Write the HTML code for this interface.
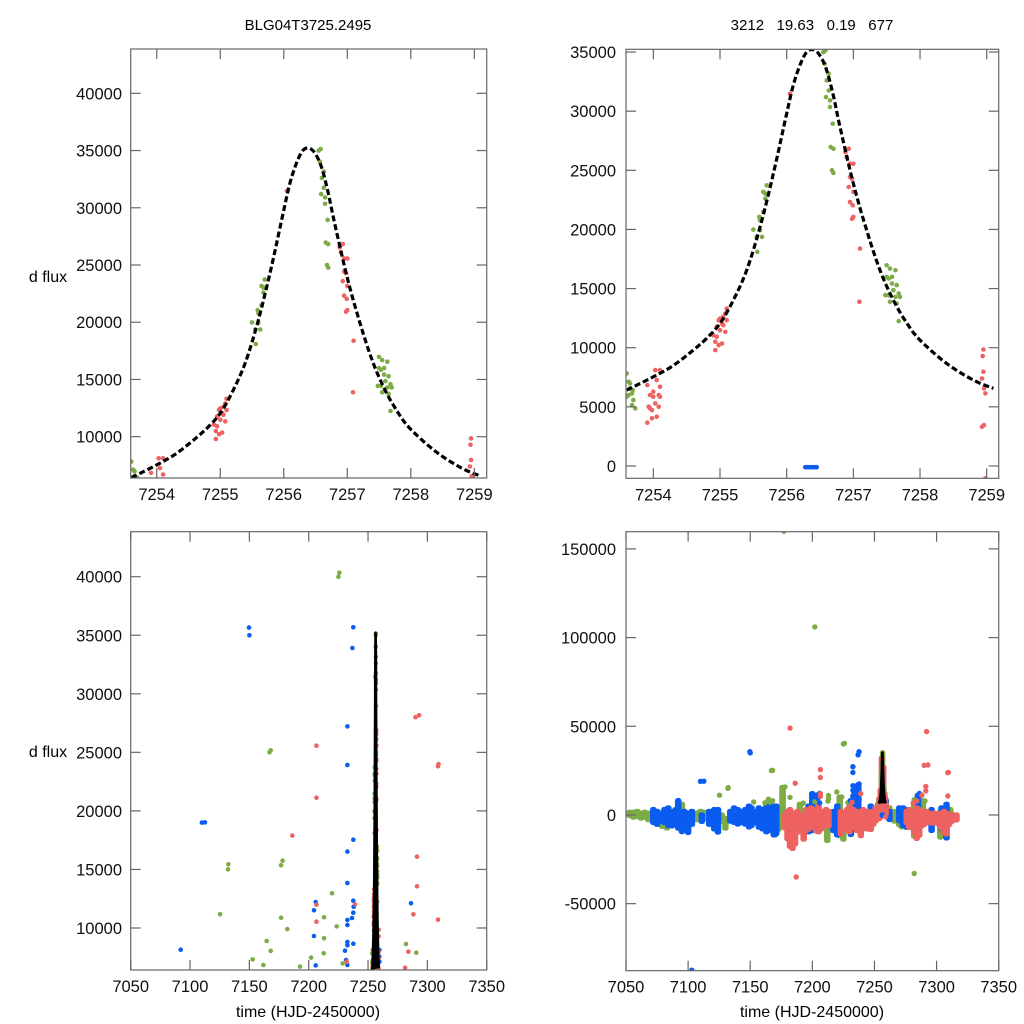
<!DOCTYPE html>
<html><head><meta charset="utf-8"><style>
html,body{margin:0;padding:0;background:#fff;overflow:hidden;width:1024px;height:1024px;}
svg{display:block;font-family:"Liberation Sans",sans-serif;}
</style></head><body>
<svg id="chart" width="1024" height="1024" viewBox="0 0 1024 1024" xmlns="http://www.w3.org/2000/svg">
<rect width="1024" height="1024" fill="#fff"/>
<text x="308" y="30" text-anchor="middle" font-size="15">BLG04T3725.2495</text>
<text x="812" y="30" text-anchor="middle" font-size="15" xml:space="preserve">3212   19.63   0.19   677</text>
<text x="48" y="282" text-anchor="middle" font-size="16">d flux</text>
<text x="48" y="757" text-anchor="middle" font-size="16">d flux</text>
<text x="308" y="1017" text-anchor="middle" font-size="16">time (HJD-2450000)</text>
<text x="812" y="1017" text-anchor="middle" font-size="16">time (HJD-2450000)</text>
</svg>
<script>
// ---- model curve ----
const modelT=[7253.6,7254,7254.3,7254.6,7254.8,7255,7255.2,7255.4,7255.6,7255.8,7256,7256.1,7256.2,7256.3,7256.4,7256.5,7256.6,7256.7,7256.8,7257,7257.2,7257.4,7257.6,7257.8,7258,7258.4,7258.8,7259.1];
const modelF=[6420,7540,8500,9800,10800,12050,14020,16550,20200,24700,29800,32200,33900,35000,35200,34700,33450,31300,28660,23870,19930,16550,14020,12100,10640,8670,7260,6560];
// ---- individual points: red telescope ----
const redT=[7253.91,7254.03,7254.1,7254.05,7253.95,7254,7254.08,7253.93,7253.98,7254.03,7254.1,7254.05,7253.98,7253.91,7254.1,7254.08,7253.95,7254,
7254.93,7254.93,7254.95,7255,7255.03,7255.05,7255.08,7255.1,7254.98,7254.95,7255.08,7255.03,7254.98,7254.9,7255.1,7255,7255.05,
7256.05,7256.88,7256.93,7256.9,7256.95,7257,7256.98,7256.95,7256.93,7257,7256.95,7256.99,7257,7256.98,7257.1,7257.09,
7258.95,7258.94,7258.95,7258.93,7258.96,7258.98,7258.93,7258.96,7258.98,
7206.5,7206.5,7186.2,7293,7309,7291.3,7291.3,7288.2,7309,7206.5,7206.5,7239,7232,7284,7281.2,7182,7292,7187,7290,7309.5];
const redF=[6840,8110,8110,7260,6000,5860,6000,5010,4730,5290,5860,4170,4030,3660,6700,5010,4870,6280,
9800,10500,10920,11480,12050,12610,12890,13310,12330,11770,11340,10360,10220,11060,12330,12470,11910,
31470,26550,26830,26120,25560,25560,24290,24430,23590,23170,22320,22040,21060,20910,18380,13880,
9850,9290,7970,7400,6560,6140,3320,3460,-1040,
25570,21130,17890,28160,23810,16090,13560,11170,10710,11990,10540,12020,7120,7980,6610,49000,47000,-35000,28000,24000];
// ---- green telescope ----
const greenT=[7253.6,7253.63,7253.65,7253.63,7253.68,7253.65,7253.7,7253.68,7253.73,7253.6,7253.69,
7255.5,7255.55,7255.6,7255.63,7255.56,7255.6,7255.65,7255.68,7255.65,7255.7,7255.59,7255.68,
7256.55,7256.58,7256.57,7256.63,7256.6,7256.63,7256.59,7256.65,7256.65,7256.69,7256.66,7256.7,7256.68,7256.7,
7257.5,7257.55,7257.63,7257.53,7257.58,7257.65,7257.6,7257.53,7257.63,7257.7,7257.55,7257.65,7257.48,7257.68,7257.58,7257.68,7257.5,
7225.8,7168,7132.3,7125.3,7178,7176.7,7176.7,7182,7219.7,7223.6,7213,7213,7212.6,7164.6,7168,7152.8,7161.8,7192.7,7202,7228.6,7282,7290.7,
7177,7202,7225,7282,7167,7132];
const greenF=[7830,7120,6560,6000,6140,6980,5570,5150,4870,5860,6420,
19990,19370,19930,19370,18100,20770,21480,22600,23170,23730,21060,23030,
34990,35130,34010,33160,32600,31750,31190,30910,30350,28940,26970,26830,25000,24770,
16970,16690,16550,15850,15430,15290,14860,14440,14300,14300,13880,13740,14440,14580,15990,12250,15990,
40340,25170,15440,11170,15750,15350,10880,9910,12960,10140,10910,9120,7840,8890,8040,7320,6840,6700,7470,6980,8630,7890,
160000,106000,40000,-33000,25000,15000];
// ---- blue telescope ----
const blueT=[7256.28,7256.31,7256.34,7256.37,7256.4,7256.43,7256.45,
7149.7,7237.6,7236.8,7232.6,7232.6,7112.6,7237.6,7232.6,7232.6,7237.6,7237.9,7237.6,7236.5,7232.6,7232.6,7205.9,7204.5,7204.5,7205.9,7230.6,7232.6,7232.6,7237.6,7231.5,7232.6,7092.1,7286.2,7259.6,7259.6,7259.6,
7103,7150,7110];
const blueF=[-100,-100,-100,-100,-100,-100,-100,
35650,35680,33910,27220,23920,19020,17540,16520,13840,12330,11820,11310,10850,10680,10260,12220,11510,9320,6810,8060,8800,8520,8660,7270,6840,8150,12110,8120,7550,7120,
-87500,35000,19000];
// ---- nightly dense clusters (panel 4): time, low, high ----
const gNightT=[7053,7056,7059,7062,7065,7068,7071,7079,7083,7095,7107,7110,7113,7127,7130,7160,7165,7170,7173,7176,7190,7212,7222,7225,7230,7262,7266,7270,7272,7282,7289,7303,7311];
const gNightLo=[-1000,-2000,-1500,-2500,-2000,-3000,-2500,-7000,-7500,-2000,-3000,-2000,-3000,-4000,-8000,-3000,-5000,-12000,-8000,-6000,-5000,-15000,-12000,-14000,-6000,-2000,-4000,-6000,-7000,-12000,-3000,-13000,-3000];
const gNightHi=[1500,1500,2000,1000,1500,1000,500,0,-1000,6000,1000,2000,1500,0,-2000,2000,8000,5000,3000,15500,6000,-8000,10000,-10000,4000,4000,2000,-1000,-3000,7000,8000,2000,3000];
const bNightT=[7072,7075,7078,7081,7084,7087,7090,7092,7095,7097,7100,7103,7111,7117,7121,7124,7134,7137,7140,7143,7146,7149,7151,7154,7157,7160,7163,7166,7169,7171,7197,7200,7203,7217,7220,7231,7234,7237,7247,7262,7270,7273,7276,7285,7296,7304,7308];
const bNightLo=[-5000,-6000,-4000,-5000,-6000,-7000,-6000,-8000,-9500,-6000,-10000,-6000,-4000,-6000,-8000,-10000,-4000,-5000,-6000,-5000,-6000,-7000,-6000,-5000,-7000,-8000,-10000,-9000,-12000,-11000,-10000,-9000,-8000,-9000,-12000,-11000,-8000,-8000,-5000,-3000,-4000,-6000,-7000,-12000,-9000,-8000,-13000];
const bNightHi=[3000,2000,1000,3000,4000,2000,3000,8000,-3000,2000,1000,2000,0,2000,3000,3000,2000,4000,3000,2000,3000,5000,4000,2000,4000,3000,5000,4000,5000,5000,5000,12000,9000,2000,5000,8000,16000,17000,5000,2000,4000,4000,3000,11000,3000,4000,6000];
const rNightT=[7178,7180,7182,7184,7186,7188,7193,7195,7197,7199,7201,7203,7205,7207,7209,7211,7213,7223,7225,7228,7230,7233,7236,7239,7241,7243,7245,7247,7249,7251,7253,7254,7255,7256,7257,7258,7259,7276,7278,7280,7282,7284,7286,7288,7290,7292,7294,7296,7298,7300,7302,7304,7306,7308,7310,7312,7314,7316];
const rNightLo=[-8000,-14000,-18000,-19000,-17000,-10000,-14000,-9000,-8000,-7000,-6000,-9000,-10000,-8000,-7000,-6000,-7000,-11000,-8000,-9000,-10000,-7000,-9000,-12000,-8000,-6000,-8000,-9000,-6000,-4000,-3000,-2000,2000,8000,10000,4000,0,-5000,-7000,-8000,-10000,-14000,-12000,-7000,-6000,-5000,-4000,-5000,-4000,-5000,-6000,-8000,-10000,-11000,-6000,-4000,-3000,-3000];
const rNightHi=[0,2000,3000,1000,-1000,2000,0,3000,2000,4000,3000,1000,5000,2000,1000,3000,2000,2000,1000,3000,5000,3000,2000,1000,3000,1000,2000,0,2000,4000,6000,9000,14000,32000,27000,12000,8000,2000,3000,1000,2000,4000,3000,2000,1000,2000,1000,0,1000,0,1000,0,2000,1000,0,0,0,0];
// ---- tick labels ----
const xTicksZoom=[7254,7255,7256,7257,7258,7259];
const xTicksWide=[7050,7100,7150,7200,7250,7300,7350];
const yTicksP1=[10000,15000,20000,25000,30000,35000,40000];
const yTicksP2=[0,5000,10000,15000,20000,25000,30000,35000];
const yTicksP4=[-50000,0,50000,100000,150000];

const NS='http://www.w3.org/2000/svg';
const svg=document.getElementById('chart');
const RED='#ee6262',GREEN='#7dab45',BLUE='#0b5cf0';
function mk(tag,attrs,parent){const e=document.createElementNS(NS,tag);for(const k in attrs)e.setAttribute(k,attrs[k]);(parent||svg).appendChild(e);return e;}
function scale(d0,d1,r0,r1){return v=>r0+(v-d0)/(d1-d0)*(r1-r0);}
function smoothPath(pts){
 let d='M'+pts[0][0].toFixed(1)+','+pts[0][1].toFixed(1);
 for(let i=0;i<pts.length-1;i++){
  const p0=pts[Math.max(0,i-1)],p1=pts[i],p2=pts[i+1],p3=pts[Math.min(pts.length-1,i+2)];
  const c1=[p1[0]+(p2[0]-p0[0])/6,p1[1]+(p2[1]-p0[1])/6];
  const c2=[p2[0]-(p3[0]-p1[0])/6,p2[1]-(p3[1]-p1[1])/6];
  d+='C'+c1[0].toFixed(1)+','+c1[1].toFixed(1)+' '+c2[0].toFixed(1)+','+c2[1].toFixed(1)+' '+p2[0].toFixed(1)+','+p2[1].toFixed(1);
 }
 return d;
}

const panels=[
 {id:'p1',x0:130.7,x1:486.7,y0:478,y1:49,dx:[7253.59,7259.195],dy:[6393,43870],xt:xTicksZoom,yt:yTicksP1,wide:false,lx:122},
 {id:'p2',x0:626,x1:998.7,y0:478.3,y1:49.3,dx:[7253.59,7259.18],dy:[-1040,35230],xt:xTicksZoom,yt:yTicksP2,wide:false,lx:616},
 {id:'p3',x0:130.7,x1:486.7,y0:970,y1:531.7,dx:[7050,7350],dy:[6413,43843],xt:xTicksWide,yt:yTicksP1,wide:true,lx:122},
 {id:'p4',x0:626,x1:998.7,y0:970.7,y1:531.7,dx:[7050,7350],dy:[-87800,159700],xt:xTicksWide,yt:yTicksP4,wide:true,lx:616}
];

panels.forEach((p,pi)=>{
 const X=scale(p.dx[0],p.dx[1],p.x0,p.x1), Y=scale(p.dy[0],p.dy[1],p.y0,p.y1);
 const g=mk('g',{});
 
 
 const cp=mk('clipPath',{id:'clip'+pi},g);
 mk('rect',{x:p.x0,y:p.y1,width:p.x1-p.x0,height:p.y0-p.y1},cp);
 const plot=mk('g',{'clip-path':'url(#clip'+pi+')'},g);
 
 
 const r=pi===3?2.7:2.3;
 function dots(ts,fs,color,name){
  const gg=mk('g',{fill:color},plot);
  
  
  for(let i=0;i<ts.length;i++){
   const c=mk('circle',{cx:X(ts[i]).toFixed(1),cy:Y(fs[i]).toFixed(1),r:r},gg);
   
   
  }
 }
 function nights(ts,lo,hi,color,name){
  const gg=mk('g',{fill:color},plot);
  
  
  for(let i=0;i<ts.length;i++){
   const ya=Y(hi[i]),yb=Y(lo[i]);
   for(const off of [-0.5,0.5]){
    const cx=X(ts[i]+off);
    for(let y=ya;y<=yb+0.01;y+=1.6){mk('circle',{cx:cx.toFixed(1),cy:y.toFixed(1),r:2.7},gg);}
   }
  }
 }
 if(pi===3){
  nights(gNightT,gNightLo,gNightHi,GREEN,'green-night-clusters');
  nights(bNightT,bNightLo,bNightHi,BLUE,'blue-night-clusters');
  nights(rNightT,rNightLo,rNightHi,RED,'red-night-clusters');
 }
 dots(greenT,greenF,GREEN,'green-telescope');
 dots(blueT,blueF,BLUE,'blue-telescope');
 dots(redT,redF,RED,'red-telescope');
 const pts=modelT.map((t,i)=>[X(t),Y(modelF[i])]);
 const line=mk('path',{d:smoothPath(pts),fill:p.wide?'#000':'none',stroke:'#000','stroke-width':p.wide?2.5:3.2,'stroke-dasharray':p.wide?'none':'6 3','stroke-linejoin':'round'},plot);
 
 
 const fr=mk('rect',{x:p.x0,y:p.y1,width:p.x1-p.x0,height:p.y0-p.y1,fill:'none',stroke:'#666','stroke-width':1.2},g);
 
 
 const tg=mk('g',{stroke:'#666','stroke-width':1.2},g);
 
 
 p.xt.forEach(v=>{
  const x=X(v);
  mk('line',{x1:x,y1:p.y0,x2:x,y2:p.y0-10},tg);
  mk('line',{x1:x,y1:p.y1,x2:x,y2:p.y1+10},tg);
  const t=mk('text',{x:x,y:p.y0+22,'text-anchor':'middle','font-size':16.5,fill:'#111'},g);
  t.textContent=v;
  
  
 });
 p.yt.forEach(v=>{
  const y=Y(v);
  mk('line',{x1:p.x0,y1:y,x2:p.x0+10,y2:y},tg);
  mk('line',{x1:p.x1,y1:y,x2:p.x1-10,y2:y},tg);
  const t=mk('text',{x:p.lx,y:y+6,'text-anchor':'end','font-size':16.5,fill:'#111'},g);
  t.textContent=v;
  
  
 });
});
</script>
</body></html>
